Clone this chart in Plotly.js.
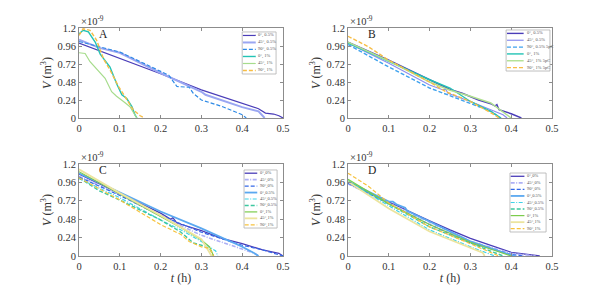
<!DOCTYPE html>
<html><head><meta charset="utf-8">
<script src="https://cdn.plot.ly/plotly-3.0.1.min.js"></script>
<style>html,body{margin:0;padding:0;background:#fff}</style></head>
<body><div id="chart" style="width:609px;height:291px"></div>
<script>
// ---------- DATA (t in h, V in 1e-9 m^3) ----------
const A_names = ["0°, 0.5%","45°, 0.5%","90°, 0.5%","0°, 1%","45°, 1%","90°, 1%"];
const A_t = [
  [0,0.1,0.2,0.3,0.416,0.44,0.457,0.477,0.49,0.5],
  [0,0.05,0.1,0.2,0.3,0.31,0.4,0.44,0.455],
  [0,0.1,0.17,0.22,0.24,0.27,0.28,0.3,0.35,0.38,0.4,0.41],
  [0,0.01,0.023,0.04,0.052,0.076,0.092,0.105,0.117,0.13,0.137,0.142],
  [0,0.015,0.027,0.043,0.064,0.08,0.092,0.109,0.125,0.137,0.142],
  [0,0.01,0.027,0.043,0.06,0.076,0.097,0.117,0.133,0.15,0.16]
];
const A_v = [
  [1.0,0.8,0.59,0.375,0.163,0.124,0.066,0.053,0.03,0],
  [1.045,0.935,0.87,0.6,0.35,0.31,0.145,0.088,0],
  [1.02,0.88,0.7,0.57,0.42,0.41,0.33,0.24,0.155,0.09,0.044,0],
  [1.12,1.17,1.15,1.01,0.85,0.68,0.46,0.31,0.26,0.15,0.044,0],
  [0.87,0.86,0.75,0.66,0.53,0.35,0.29,0.22,0.15,0.04,0],
  [1.1,1.19,1.17,1.04,0.79,0.64,0.42,0.24,0.11,0.03,0]
];

const B_names = ["0°, 0.5%","45°, 0.5%","90°, 0.5% 5pC","0°, 1%","45°, 1% 5pC","90°, 1% 5pC"];
const B_t = [
  [0,0.1,0.2,0.25,0.28,0.3,0.32,0.35,0.36,0.365,0.37,0.4,0.425],
  [0,0.1,0.2,0.23,0.24,0.245,0.3,0.35,0.38,0.39],
  [0,0.1,0.2,0.3,0.35,0.37,0.375],
  [0,0.1,0.18,0.2,0.25,0.3,0.35,0.375],
  [0,0.1,0.2,0.25,0.3,0.35,0.4],
  [0,0.05,0.1,0.2,0.24,0.3,0.36,0.37]
];
const B_v = [
  [1.01,0.77,0.51,0.38,0.33,0.28,0.24,0.19,0.16,0.18,0.11,0.057,0],
  [1.0,0.73,0.44,0.38,0.38,0.33,0.22,0.11,0.044,0],
  [0.98,0.68,0.4,0.19,0.09,0.013,0],
  [1.0,0.75,0.55,0.51,0.4,0.22,0.09,0],
  [1.01,0.76,0.48,0.37,0.29,0.2,0],
  [1.09,0.95,0.77,0.48,0.35,0.22,0.04,0]
];

const C_names = ["0°,0%","45°,0%","90°,0%","0°,0.5%","45°,0.5%","90°,0.5%","0°,1%","45°,1%","90°,1%"];
const C_t = [
  [0,0.1,0.2,0.225,0.23,0.24,0.3,0.35,0.4,0.45,0.49,0.5],
  [0,0.1,0.2,0.3,0.4,0.43,0.44],
  [0,0.1,0.2,0.3,0.4,0.45,0.5],
  [0,0.1,0.2,0.3,0.4,0.43,0.44],
  [0,0.1,0.2,0.25,0.3,0.32,0.335,0.34],
  [0,0.05,0.1,0.2,0.25,0.28,0.3,0.32,0.33],
  [0,0.1,0.2,0.25,0.3,0.32,0.33],
  [0,0.1,0.2,0.3,0.325],
  [0,0.1,0.2,0.25,0.27,0.3,0.32,0.33]
];
const C_v = [
  [1.07,0.82,0.56,0.48,0.5,0.43,0.33,0.23,0.16,0.08,0.035,0],
  [1.04,0.8,0.52,0.27,0.09,0.035,0],
  [1.03,0.79,0.53,0.31,0.14,0.08,0],
  [1.08,0.83,0.58,0.36,0.12,0.035,0],
  [1.01,0.76,0.47,0.34,0.19,0.12,0.065,0],
  [1.02,0.85,0.73,0.47,0.31,0.17,0.14,0.1,0],
  [1.1,0.81,0.52,0.37,0.21,0.12,0],
  [1.13,0.82,0.53,0.22,0],
  [1.02,0.73,0.41,0.28,0.19,0.12,0.1,0]
];

const D_names = ["0°,0%","45°,0%","90°,0%","0°,0.5%","45°,0.5%","90°,0.5%","0°,1%","45°,1%","90°,1%"];
const D_t = [
  [0,0.1,0.2,0.25,0.3,0.35,0.4,0.47],
  [0,0.1,0.2,0.3,0.4,0.46],
  [0,0.1,0.2,0.3,0.4,0.43],
  [0,0.1,0.11,0.12,0.14,0.145,0.2,0.3,0.4,0.41],
  [0,0.1,0.2,0.3,0.36],
  [0,0.1,0.2,0.3,0.38],
  [0,0.1,0.2,0.3,0.4],
  [0,0.1,0.2,0.3,0.33,0.335],
  [0,0.05,0.1,0.2,0.3,0.37]
];
const D_v = [
  [0.95,0.7,0.46,0.34,0.23,0.14,0.048,0],
  [0.94,0.69,0.43,0.19,0.035,0],
  [0.95,0.68,0.41,0.17,0.02,0],
  [0.97,0.71,0.71,0.67,0.63,0.59,0.45,0.19,0.013,0],
  [0.97,0.65,0.34,0.12,0],
  [0.98,0.68,0.38,0.17,0],
  [1.0,0.68,0.41,0.18,0],
  [0.97,0.62,0.32,0.11,0.044,0],
  [1.08,0.91,0.69,0.38,0.16,0]
];

const yTicks = [0,0.24,0.48,0.72,0.96,1.2];
const xTicks = [0,0.1,0.2,0.3,0.4,0.5];

// ---------- STYLES ----------
const DASH = '4px,2px', DASHDOT = '4px,1.5px,1px,1.5px';
const styleA = [
  {c:'#4a3db8',w:1.2,d:'solid'},{c:'#9aa6f2',w:2,d:'solid'},{c:'#2e8ae6',w:1.2,d:DASH},
  {c:'#22c3b5',w:1.4,d:'solid'},{c:'#a6dc8c',w:1.2,d:'solid'},{c:'#f7bd45',w:1.4,d:DASH}];
const styleB = [
  {c:'#4a3db8',w:1.4,d:'solid'},{c:'#8a8ef0',w:1.2,d:'solid'},{c:'#3ea2ee',w:1.4,d:DASH},
  {c:'#22c3b5',w:1.4,d:'solid'},{c:'#b0e090',w:1.4,d:'solid'},{c:'#f7bd45',w:1.4,d:DASH}];
const styleCD = [
  {c:'#4a3db8',w:1.3,d:'solid'},{c:'#aeb0f5',w:1.6,d:DASHDOT},{c:'#3468e8',w:1.2,d:DASH},
  {c:'#5aa8f0',w:1.8,d:'solid'},{c:'#3fd3e8',w:1.2,d:DASHDOT},{c:'#3cc8a0',w:1.4,d:DASH},
  {c:'#7ccc4c',w:1.2,d:'solid'},{c:'#ece49e',w:1.8,d:'solid'},{c:'#f7c23c',w:1.2,d:DASH}];

const FONT = 'Liberation Serif, Times New Roman, serif';
const panels = [
  {names:A_names,t:A_t,v:A_v,st:styleA,xa:'x',ya:'y',label:'A',leg:[0.80,0.966,0.956,0.489]},
  {names:B_names,t:B_t,v:B_v,st:styleB,xa:'x2',ya:'y2',label:'B',leg:[0.775,0.99,0.978,0.522]},
  {names:C_names,t:C_t,v:C_v,st:styleCD,xa:'x3',ya:'y3',label:'C',leg:[0.809,0.971,0.935,0.304]},
  {names:D_names,t:D_t,v:D_v,st:styleCD,xa:'x4',ya:'y4',label:'D',leg:[0.794,0.971,0.902,0.261]}
];

const traces = [], shapes = [], annotations = [];
panels.forEach(p => {
  p.names.forEach((nm,i) => {
    traces.push({x:p.t[i], y:p.v[i], name:nm, type:'scatter', mode:'lines',
      xaxis:p.xa, yaxis:p.ya, showlegend:false,
      line:{color:p.st[i].c, width:p.st[i].w, dash:p.st[i].d}});
  });
  const xr = p.xa + ' domain', yr = p.ya + ' domain';
  const [x0,x1,y0,y1] = p.leg;
  shapes.push({type:'rect', xref:xr, yref:yr, x0:x0, x1:x1, y0:y1, y1:y0,
    line:{color:'#b0b0b0', width:0.8}, fillcolor:'#fff', layer:'above'});
  const n = p.names.length, step = (y0-y1)/n, w = x1-x0;
  p.names.forEach((nm,i) => {
    const yy = y0 - (i+0.5)*step;
    shapes.push({type:'line', xref:xr, yref:yr, x0:x0+0.02*w, x1:x0+0.40*w, y0:yy, y1:yy,
      line:{color:p.st[i].c, width:p.st[i].w, dash:p.st[i].d}, layer:'above'});
    annotations.push({xref:xr, yref:yr, x:x0+0.42*w, y:yy, text:nm, showarrow:false,
      xanchor:'left', yanchor:'middle', font:{family:FONT, size:4.5, color:'#555'}});
  });
  annotations.push({xref:p.xa, yref:p.ya, x:0.045, y:1.12, text:p.label, showarrow:false,
    xanchor:'left', yanchor:'middle', font:{family:FONT, size:11.5, color:'#222'}});
  annotations.push({xref:xr, yref:yr, x:0, y:1, text:'×10<sup>-9</sup>', showarrow:false,
    xanchor:'left', yanchor:'bottom', yshift:-1, font:{family:FONT, size:10.5, color:'#333'}});
});

function xAxis(dom, anchor, withTitle) {
  const a = {domain:dom, anchor:anchor, range:[0,0.5], tickvals:xTicks, ticks:'inside', ticklen:3,
    tickcolor:'#8c8c8c', mirror:'allticks', showline:true, linecolor:'#8c8c8c', linewidth:1,
    showgrid:false, zeroline:false, fixedrange:true,
    tickfont:{family:FONT, size:10.5, color:'#333'}};
  if (withTitle) a.title = {text:'<i>t</i> (h)', font:{family:FONT, size:12, color:'#333'}, standoff:3};
  return a;
}
function yAxis(dom, anchor) {
  return {domain:dom, anchor:anchor, range:[0,1.2], tickvals:yTicks, ticks:'inside', ticklen:3,
    tickcolor:'#8c8c8c', mirror:'allticks', showline:true, linecolor:'#8c8c8c', linewidth:1,
    showgrid:false, zeroline:false, fixedrange:true,
    tickfont:{family:FONT, size:10.5, color:'#333'},
    title:{text:'<i>V</i> (m<sup>3</sup>)', font:{family:FONT, size:12, color:'#333'}, standoff:3}};
}
const dxL = [79/609, 283/609], dxR = [348/609, 552/609];
const dyT = [1-118/291, 1-28/291], dyB = [1-256/291, 1-164/291];

const layout = {
  width:609, height:291, margin:{l:0,r:0,t:0,b:0}, paper_bgcolor:'#fff', plot_bgcolor:'#fff',
  showlegend:false,
  xaxis:xAxis(dxL,'y',false), yaxis:yAxis(dyT,'x'),
  xaxis2:xAxis(dxR,'y2',false), yaxis2:yAxis(dyT,'x2'),
  xaxis3:xAxis(dxL,'y3',true), yaxis3:yAxis(dyB,'x3'),
  xaxis4:xAxis(dxR,'y4',true), yaxis4:yAxis(dyB,'x4'),
  shapes:shapes, annotations:annotations
};
Plotly.newPlot('chart', traces, layout, {staticPlot:true, displayModeBar:false});
</script></body></html>
